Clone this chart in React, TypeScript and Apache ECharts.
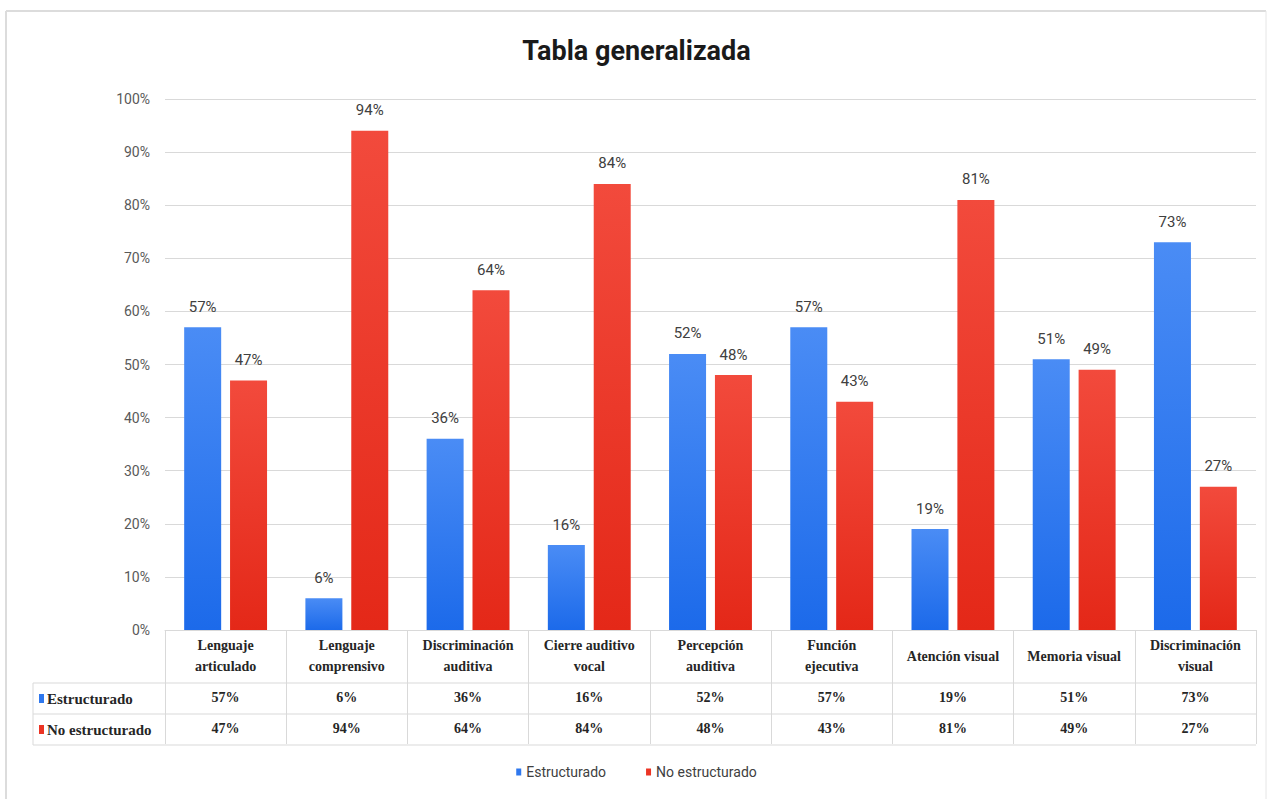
import React, { useEffect, useRef } from "react";
import * as echarts from "echarts";

const categories = [
  "Lenguaje\narticulado",
  "Lenguaje\ncomprensivo",
  "Discriminación\nauditiva",
  "Cierre auditivo\nvocal",
  "Percepción\nauditiva",
  "Función\nejecutiva",
  "Atención visual",
  "Memoria visual",
  "Discriminación\nvisual",
];
const estructurado = [57, 6, 36, 16, 52, 57, 19, 51, 73];
const noEstructurado = [47, 94, 64, 84, 48, 43, 81, 49, 27];
const seriesNames = ["Estructurado", "No estructurado"];
const yTicks = { min: 0, max: 100, interval: 10 };

const BLUE = "#2f78ee";
const RED = "#ec3424";
const blueGrad = new echarts.graphic.LinearGradient(0, 0, 0, 1, [
  { offset: 0, color: "#4a8cf5" },
  { offset: 1, color: "#1c6aea" },
]);
const redGrad = new echarts.graphic.LinearGradient(0, 0, 0, 1, [
  { offset: 0, color: "#f24a3c" },
  { offset: 1, color: "#e42818" },
]);

const SANS = "'Liberation Sans Narrow', Roboto, 'Liberation Sans', sans-serif";
const SERIF = "'Liberation Serif', 'DejaVu Serif', serif";
const GRID = "#d9d9d9";

export default function App() {
  const ref = useRef<HTMLDivElement>(null);
  useEffect(() => {
    document.body.style.margin = "0";
    const chart = echarts.init(ref.current!, null, { renderer: "svg" });
    const valueLabel = {
      show: true,
      position: "top",
      distance: 13,
      fontSize: 15,
      fontFamily: SANS,
      color: "#404040",
      formatter: (p: any) => `${p.value}%`,
    };
    const tableAxis = (vals: number[], margin: number) => ({
      type: "category",
      data: categories,
      position: "bottom",
      gridIndex: 0,
      axisLine: { show: false },
      axisTick: { show: false },
      splitLine: { show: false },
      axisLabel: {
        interval: 0,
        margin,
        verticalAlign: "middle",
        fontFamily: SERIF,
        fontWeight: "bold",
        fontSize: 14,
        color: "#262626",
        formatter: (_v: string, i: number) => `${vals[i]}%`,
      },
    });
    chart.setOption({
      animation: false,
      title: {
        text: "Tabla generalizada",
        left: "center",
        top: 32,
        textStyle: { fontFamily: "Roboto, sans-serif", fontWeight: "bold", fontSize: 27, color: "#1a1a1a" },
      },
      legend: {
        bottom: 15,
        left: "center",
        icon: "rect",
        itemWidth: 5,
        itemHeight: 7,
        itemGap: 40,
        textStyle: { fontFamily: SANS, fontSize: 14, color: "#404040" },
        data: [
          { name: seriesNames[0], itemStyle: { color: BLUE } },
          { name: seriesNames[1], itemStyle: { color: RED } },
        ],
      },
      grid: { left: 165, right: 17, top: 99, bottom: 169 },
      xAxis: [
        {
          type: "category",
          data: categories,
          position: "bottom",
          axisLine: { show: true, lineStyle: { color: GRID } },
          axisTick: { show: true, length: 114, lineStyle: { color: GRID } },
          axisLabel: {
            interval: 0,
            margin: 26,
            verticalAlign: "middle",
            lineHeight: 21,
            fontFamily: SERIF,
            fontWeight: "bold",
            fontSize: 14,
            color: "#262626",
          },
        },
        tableAxis(estructurado, 67),
        tableAxis(noEstructurado, 98),
      ],
      yAxis: {
        type: "value",
        min: yTicks.min,
        max: yTicks.max,
        interval: yTicks.interval,
        axisLine: { show: false },
        axisTick: { show: false },
        splitLine: { lineStyle: { color: GRID } },
        axisLabel: {
          margin: 15,
          fontFamily: SANS,
          fontSize: 14,
          color: "#595959",
          formatter: (v: number) => `${v}%`,
        },
      },
      series: [
        {
          name: seriesNames[0],
          type: "bar",
          xAxisIndex: 0,
          data: estructurado,
          barWidth: 37,
          barGap: "24%",
          itemStyle: { color: blueGrad },
          label: valueLabel,
        },
        {
          name: seriesNames[1],
          type: "bar",
          xAxisIndex: 0,
          data: noEstructurado,
          barWidth: 37,
          barGap: "24%",
          itemStyle: { color: redGrad },
          label: valueLabel,
        },
      ],
      graphic: [
        { type: "line", shape: { x1: 6, y1: 11, x2: 1266, y2: 11 }, style: { stroke: "#dcdcdc", lineWidth: 2 } },
        { type: "line", shape: { x1: 6, y1: 11, x2: 6, y2: 799 }, style: { stroke: "#dcdcdc", lineWidth: 2 } },
        { type: "line", shape: { x1: 1266, y1: 11, x2: 1266, y2: 799 }, style: { stroke: "#e6e6e6", lineWidth: 1 } },
        { type: "line", shape: { x1: 33, y1: 683, x2: 1256, y2: 683 }, style: { stroke: GRID, lineWidth: 1 } },
        { type: "line", shape: { x1: 33, y1: 714, x2: 1256, y2: 714 }, style: { stroke: GRID, lineWidth: 1 } },
        { type: "line", shape: { x1: 33, y1: 745, x2: 1256, y2: 745 }, style: { stroke: GRID, lineWidth: 1 } },
        { type: "line", shape: { x1: 33, y1: 683, x2: 33, y2: 745 }, style: { stroke: GRID, lineWidth: 1 } },
        { type: "rect", shape: { x: 39, y: 694, width: 5, height: 9 }, style: { fill: BLUE } },
        { type: "rect", shape: { x: 39, y: 725, width: 5, height: 9 }, style: { fill: RED } },
        {
          type: "text",
          x: 47,
          y: 698.5,
          style: {
            text: seriesNames[0],
            fontFamily: SERIF,
            fontWeight: "bold",
            fontSize: 15,
            fill: "#262626",
            verticalAlign: "middle",
          },
        },
        {
          type: "text",
          x: 47,
          y: 729.5,
          style: {
            text: seriesNames[1],
            fontFamily: SERIF,
            fontWeight: "bold",
            fontSize: 15,
            fill: "#262626",
            verticalAlign: "middle",
          },
        },
      ],
    });
    return () => chart.dispose();
  }, []);
  return <div ref={ref} style={{ width: 1273, height: 799 }} />;
}
